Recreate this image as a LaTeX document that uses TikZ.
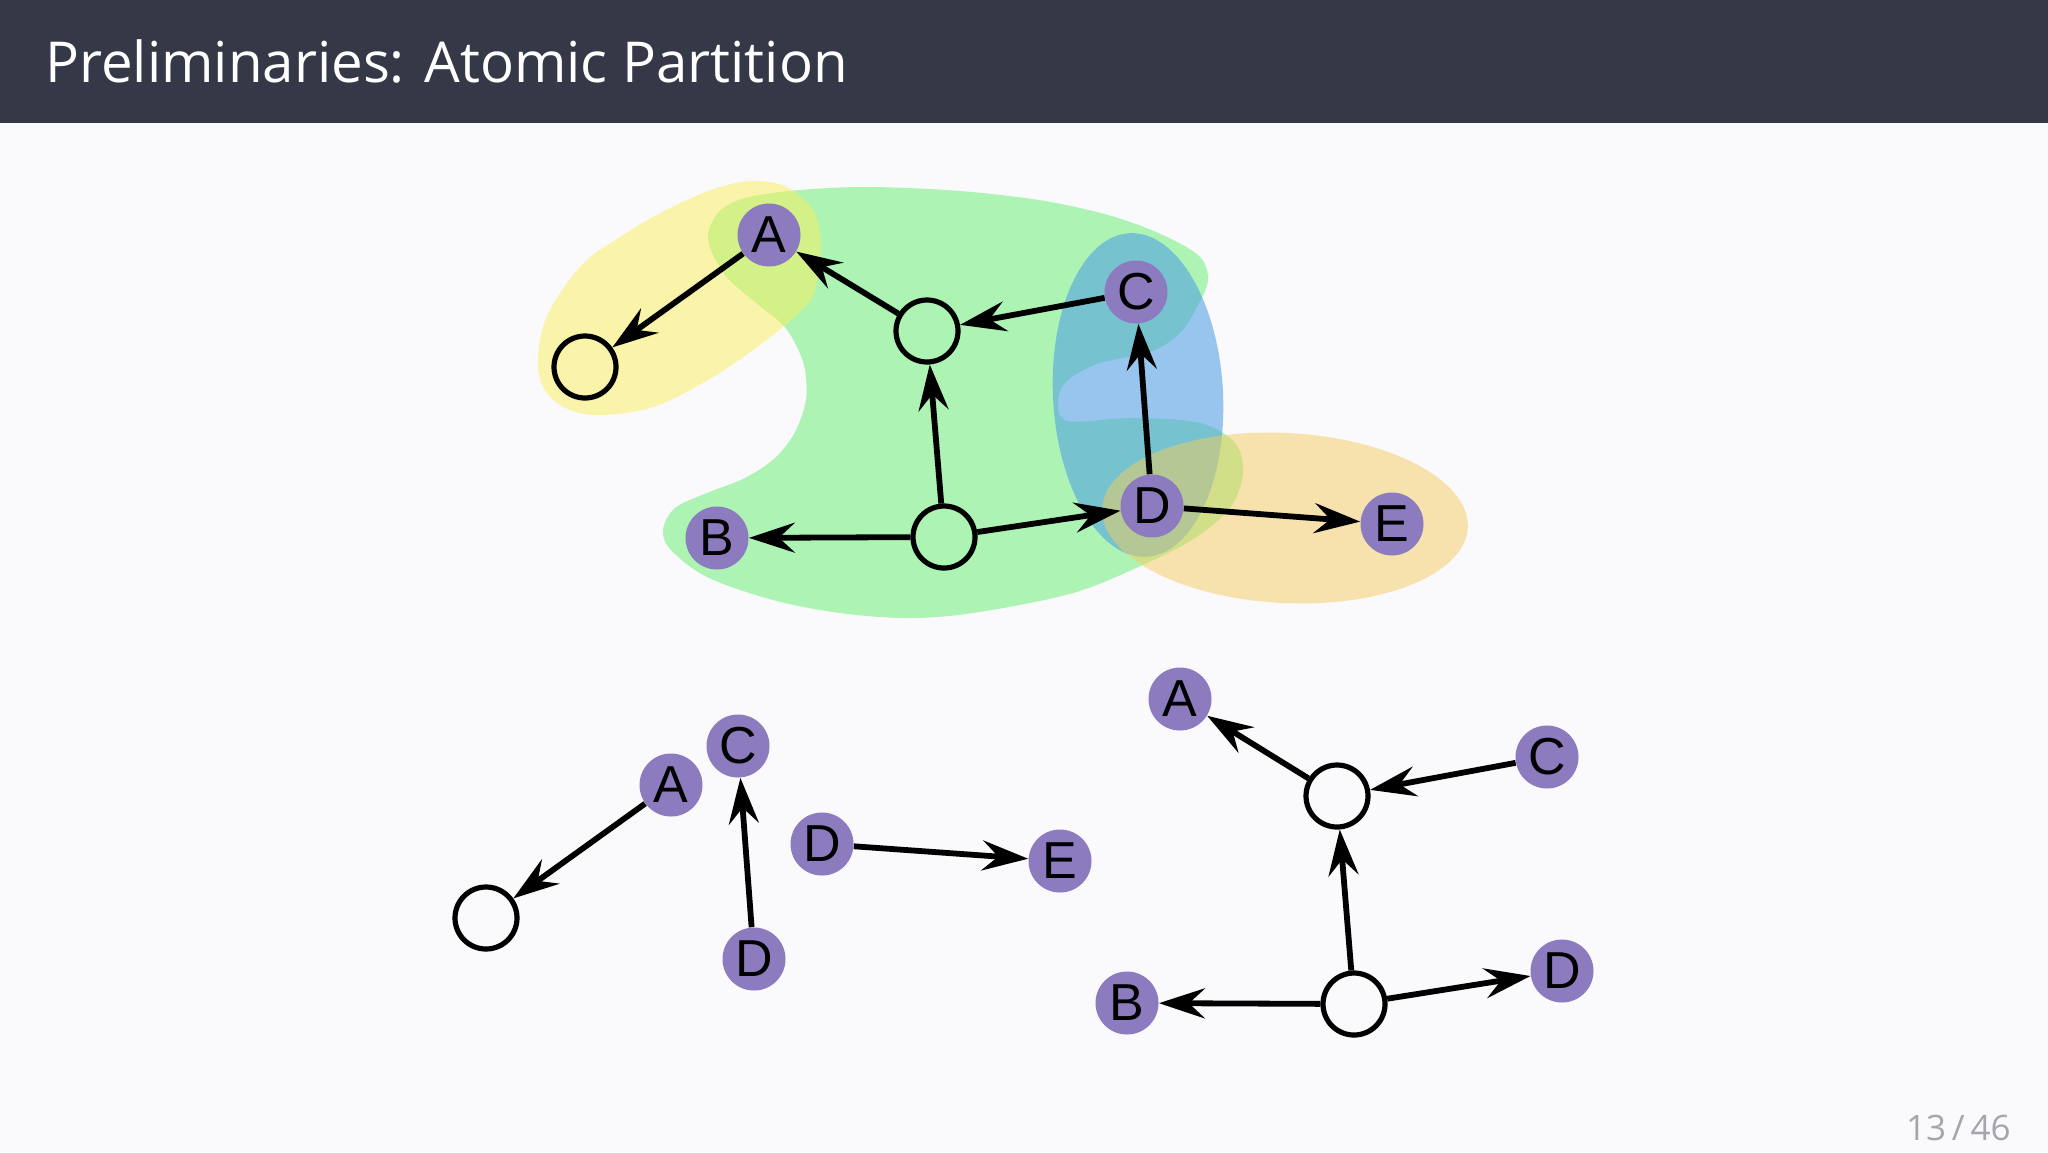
\documentclass[tikz,border=0pt]{standalone}
\usepackage{fontspec}
\usetikzlibrary{arrows.meta}
\newfontfamily\titlefont{Open Sans}
\newfontfamily\lettfont{Liberation Sans}
\definecolor{bgcol}{HTML}{FAF9FC}
\definecolor{barcol}{HTML}{353846}
\definecolor{nodepurple}{HTML}{8C7CBF}
\definecolor{blobgreen}{RGB}{96,238,110}
\definecolor{blobyellow}{RGB}{250,240,90}
\definecolor{blobblue}{RGB}{80,160,228}
\definecolor{bloborange}{RGB}{246,205,95}
\definecolor{pagegray}{RGB}{165,165,172}
\tikzset{
  pnode/.style={circle, fill=nodepurple, minimum size=31.5pt, inner sep=0pt, font=\lettfont\fontsize{26}{26}\selectfont},
  enode/.style={circle, draw=black, line width=2.6pt, minimum size=31pt, inner sep=0pt},
  arr/.style={line width=2.9pt, draw=black, -{Stealth[length=23pt, width=15pt, inset=8pt]}},
  blob/.style={fill opacity=0.5}
}
\begin{document}
\begin{tikzpicture}[x=0.5pt, y=-0.5pt]
\useasboundingbox (0,0) rectangle (2048,1152);
\fill[bgcol] (0,0) rectangle (2048,1152);
\fill[barcol] (0,0) rectangle (2048,123);
\node[anchor=base west, inner sep=0pt, text=white, font=\titlefont\fontsize{28.2}{30}\selectfont] (title) at (45,82) {Preliminaries: Atomic Partition};
\node[anchor=base east, inner sep=0pt, text=pagegray, font=\titlefont\fontsize{17.5}{20}\selectfont] (page) at (2011,1140) {13\,/\,46};

% blobs
\fill[blob, blobgreen] plot[smooth cycle, tension=0.55] coordinates {
 (708,240) (718,213) (745,198) (800,190) (870,187) (960,191) (1045,201) (1115,217) (1167,237) (1200,257) (1208,280) (1198,305) (1180,333) (1150,352) (1100,363) (1068,380) (1058,400) (1068,421) (1133,418) (1200,423) (1235,443) (1243,473) (1230,508) (1195,538) (1147,563) (1073,593) (973,613) (907,618) (840,613) (773,600) (707,577) (671,550) (663,530) (675,508) (707,493) (745,478) (775,458) (795,432) (806,400) (805,370) (797,347) (783,325) (755,302) (725,275)};
\fill[blob, blobyellow] plot[smooth cycle, tension=0.6] coordinates {
 (538,367) (547,393) (570,410) (603,415) (653,407) (703,383) (753,350) (800,312) (816,287) (821,243) (813,210) (787,187) (753,181) (720,187) (687,200) (653,217) (620,237) (587,260) (560,293) (543,327)};
\fill[blobblue, fill opacity=0.58, rotate around={3:(1138,395)}] (1138,395) ellipse [x radius=85, y radius=162];
\fill[blob, bloborange, rotate around={-3:(1285,518)}] (1285,518) ellipse [x radius=183, y radius=85];

% top graph
\node[pnode] (A) at (769,235) {A};
\node[enode] (E0) at (585,367) {};
\node[enode] (M) at (927,331) {};
\node[pnode] (C) at (1136,292) {C};
\node[pnode] (D) at (1152,506) {D};
\node[pnode] (E) at (1392,524) {E};
\node[pnode] (B) at (717,538) {B};
\node[enode] (N) at (944,537) {};
\draw[arr] (A) -- (E0);
\draw[arr] (M) -- (A);
\draw[arr] (C) -- (M);
\draw[arr] (N) -- (M);
\draw[arr] (N) -- (B);
\draw[arr] (N) -- (D);
\draw[arr] (D) -- (C);
\draw[arr] (D) -- (E);

% bottom-left graphs
\node[pnode] (A2) at (671,785) {A};
\node[enode] (E1) at (486,918) {};
\node[pnode] (C2) at (738,746) {C};
\node[pnode] (D2) at (754,959) {D};
\node[pnode] (D3) at (822,844) {D};
\node[pnode] (E2) at (1060,861) {E};
\draw[arr] (A2) -- (E1);
\draw[arr] (D2) -- (C2);
\draw[arr] (D3) -- (E2);

% bottom-right graph
\node[pnode] (A3) at (1180,699) {A};
\node[enode] (M3) at (1337,796) {};
\node[pnode] (C3) at (1547,757) {C};
\node[enode] (N3) at (1354,1004) {};
\node[pnode] (B3) at (1127,1003) {B};
\node[pnode] (D4) at (1562,971) {D};
\draw[arr] (M3) -- (A3);
\draw[arr] (C3) -- (M3);
\draw[arr] (N3) -- (M3);
\draw[arr] (N3) -- (B3);
\draw[arr] (N3) -- (D4);
\end{tikzpicture}
\end{document}
